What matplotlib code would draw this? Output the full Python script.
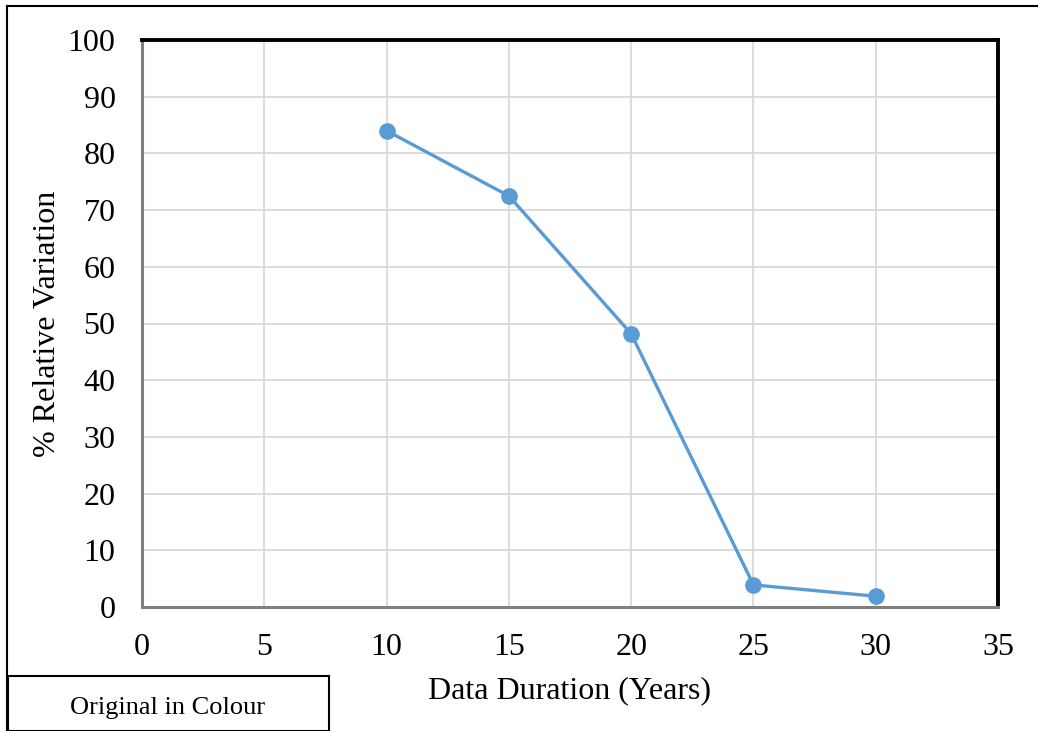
import matplotlib.pyplot as plt
from matplotlib.patches import Rectangle
from matplotlib.lines import Line2D

# data
duration_years = [10, 15, 20, 25, 30]
relative_variation = [84, 72.5, 48.2, 3.9, 1.9]
x_ticks = [0, 5, 10, 15, 20, 25, 30, 35]
y_ticks = [0, 10, 20, 30, 40, 50, 60, 70, 80, 90, 100]

plt.rcParams['font.family'] = ['Liberation Serif', 'DejaVu Serif']

fig = plt.figure(figsize=(10.38, 7.31), dpi=100)
ax = fig.add_axes([142 / 1038, 1 - 607 / 731, (998 - 142) / 1038, (607 - 40) / 731])

ax.plot(duration_years, relative_variation, color='#5B9BD5', lw=2.4,
        marker='o', markersize=11, zorder=3, clip_on=False)

ax.set_xlim(0, 35)
ax.set_ylim(0, 100)
ax.set_xticks(x_ticks)
ax.set_yticks(y_ticks)
ax.tick_params(length=0, labelsize=23)
ax.tick_params(axis='x', pad=19)
ax.tick_params(axis='y', pad=19)
ax.grid(True, color='#D9D9D9', lw=1.3)
ax.set_axisbelow(True)

for side in ['top', 'right']:
    ax.spines[side].set_color('black')
    ax.spines[side].set_linewidth(2.8)
for side in ['left', 'bottom']:
    ax.spines[side].set_color('#7F7F7F')
    ax.spines[side].set_linewidth(2.2)

ax.set_xlabel('Data Duration (Years)', fontsize=23, labelpad=10)
ax.set_ylabel('% Relative Variation', fontsize=23, labelpad=4)

# outer frame lines (top and left)
fig.add_artist(Line2D([7 / 1038, 1], [1 - 6 / 731, 1 - 6 / 731], color='black', lw=1.5,
                      transform=fig.transFigure))
fig.add_artist(Line2D([7 / 1038, 7 / 1038], [0, 1 - 6 / 731], color='black', lw=1.5,
                      transform=fig.transFigure))

# "Original in Colour" box
fig.add_artist(Rectangle((8 / 1038, 0), (329 - 8) / 1038, (731 - 676) / 731,
                         transform=fig.transFigure, fill=False, ec='black', lw=1.5))
fig.text(168 / 1038, 1 - 708 / 731, 'Original in Colour', ha='center', va='center', fontsize=19)

plt.savefig('out.png', dpi=100)
plt.close()
